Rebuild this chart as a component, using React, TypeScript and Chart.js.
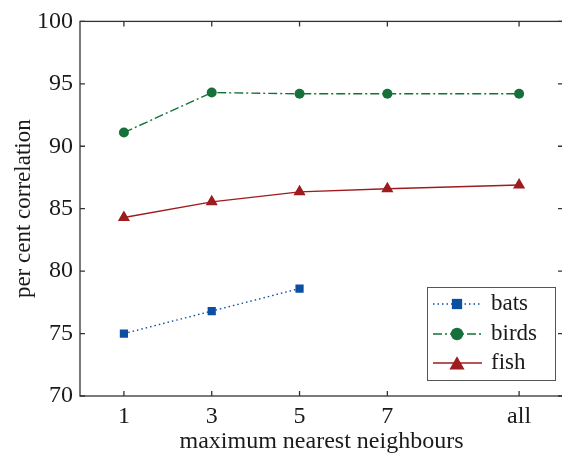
import React, { useEffect, useRef } from "react";
import { Chart, registerables } from "chart.js";

Chart.register(...registerables);

const xValues = [1, 3, 5, 7, 10];
const xTickLabels = ["1", "3", "5", "7", "all"];
const bats = [75.0, 76.8, 78.6, null, null];
const birds = [91.1, 94.3, 94.2, 94.2, 94.2];
const fish = [84.3, 85.55, 86.35, 86.6, 86.9];
const seriesNames = ["bats", "birds", "fish"];
const yTicks = [70, 75, 80, 85, 90, 95, 100];

const COLORS = ["#0b4ea2", "#16703a", "#9e1b1e"];
const DASHES = [[1.5, 3], [9, 3, 2, 3], []];
const STYLES = ["rect", "circle", "triangle"];
const RADII = [5.8, 5, 7];
const FONT = "'Liberation Serif', 'Times New Roman', serif";
const TEXT = "#1a1a1a";

function toPoints(vals: (number | null)[]) {
  return vals
    .map((v, i) => (v === null ? null : { x: xValues[i], y: v }))
    .filter((p) => p !== null) as { x: number; y: number }[];
}

function drawMarker(ctx: CanvasRenderingContext2D, style: string, x: number, y: number, r: number, color: string) {
  ctx.save();
  ctx.fillStyle = color;
  ctx.setLineDash([]);
  ctx.beginPath();
  if (style === "rect") {
    const s = r * Math.SQRT1_2;
    ctx.rect(x - s, y - s, 2 * s, 2 * s);
  } else if (style === "circle") {
    ctx.arc(x, y, r, 0, Math.PI * 2);
  } else {
    ctx.moveTo(x, y - r);
    ctx.lineTo(x + r * Math.cos(Math.PI / 6), y + r * 0.5);
    ctx.lineTo(x - r * Math.cos(Math.PI / 6), y + r * 0.5);
    ctx.closePath();
  }
  ctx.fill();
  ctx.restore();
}

const framePlugin = {
  id: "frame",
  afterDraw(chart: any) {
    const { ctx, chartArea: a } = chart;
    const xs = chart.scales.x;
    const ys = chart.scales.y;
    ctx.save();
    ctx.strokeStyle = "#333";
    ctx.lineWidth = 1.3;
    ctx.setLineDash([]);
    ctx.strokeRect(a.left, a.top, a.right - a.left, a.bottom - a.top);
    const tl = 5;
    ctx.beginPath();
    xValues.forEach((v) => {
      const px = xs.getPixelForValue(v);
      ctx.moveTo(px, a.bottom);
      ctx.lineTo(px, a.bottom - tl);
      ctx.moveTo(px, a.top);
      ctx.lineTo(px, a.top + tl);
    });
    yTicks.forEach((v) => {
      const py = ys.getPixelForValue(v);
      ctx.moveTo(a.left, py);
      ctx.lineTo(a.left + tl, py);
      ctx.moveTo(a.right, py);
      ctx.lineTo(a.right - tl, py);
    });
    ctx.stroke();

    // legend
    const bx = 427, by = 287, bw = 128, bh = 93;
    ctx.fillStyle = "#fff";
    ctx.fillRect(bx, by, bw, bh);
    ctx.strokeStyle = "#555";
    ctx.lineWidth = 1;
    ctx.strokeRect(bx + 0.5, by + 0.5, bw, bh);
    const rows = [304, 334, 363];
    ctx.font = `23px ${FONT}`;
    ctx.textBaseline = "middle";
    seriesNames.forEach((name, i) => {
      const y = rows[i];
      ctx.strokeStyle = COLORS[i];
      ctx.lineWidth = 1.4;
      ctx.setLineDash(DASHES[i]);
      ctx.beginPath();
      ctx.moveTo(433, y);
      ctx.lineTo(482, y);
      ctx.stroke();
      drawMarker(ctx, STYLES[i], 457, i === 2 ? y + 2 : y, RADII[i] * 1.25, COLORS[i]);
      ctx.fillStyle = TEXT;
      ctx.fillText(name, 491, y);
    });
    ctx.restore();
  },
};

export default function App() {
  const ref = useRef<HTMLCanvasElement | null>(null);
  useEffect(() => {
    if (!ref.current) return;
    const datasets = [bats, birds, fish].map((vals, i) => ({
      label: seriesNames[i],
      data: toPoints(vals),
      borderColor: COLORS[i],
      backgroundColor: COLORS[i],
      borderWidth: 1.4,
      borderDash: DASHES[i],
      pointStyle: STYLES[i],
      pointRadius: RADII[i],
      pointBorderWidth: 0,
      pointBackgroundColor: COLORS[i],
      tension: 0,
      showLine: true,
    }));
    const chart = new Chart(ref.current, {
      type: "scatter",
      data: { datasets },
      options: {
        responsive: false,
        animation: false,
        layout: { padding: { top: 21, right: 7, left: 0, bottom: 0 } },
        plugins: { legend: { display: false }, tooltip: { enabled: false } },
        scales: {
          x: {
            type: "linear",
            min: 0,
            max: 11,
            afterBuildTicks: (s: any) => {
              s.ticks = xValues.map((v) => ({ value: v }));
            },
            afterFit: (s: any) => {
              s.height = 58;
            },
            grid: { display: false, drawTicks: false },
            border: { display: false },
            ticks: {
              autoSkip: false,
              maxRotation: 0,
              padding: 6,
              color: TEXT,
              font: { family: FONT, size: 24 },
              callback: (v: any) => {
                const i = xValues.indexOf(Number(v));
                return i >= 0 ? xTickLabels[i] : "";
              },
            },
            title: {
              display: true,
              text: "maximum nearest neighbours",
              color: TEXT,
              font: { family: FONT, size: 24 },
              padding: { top: 0, bottom: -2 },
            },
          },
          y: {
            min: 70,
            max: 100,
            afterBuildTicks: (s: any) => {
              s.ticks = yTicks.map((v) => ({ value: v }));
            },
            afterFit: (s: any) => {
              s.width = 80;
            },
            grid: { display: false, drawTicks: false },
            border: { display: false },
            ticks: {
              padding: 7,
              color: TEXT,
              font: { family: FONT, size: 24 },
            },
            title: {
              display: true,
              text: "per cent correlation",
              color: TEXT,
              font: { family: FONT, size: 23 },
              padding: { top: 10, bottom: 0 },
            },
          },
        },
      },
      plugins: [framePlugin],
    });
    return () => chart.destroy();
  }, []);
  return (
    <div style={{ position: "absolute", left: 0, top: 0, width: 562, height: 454, overflow: "hidden", background: "#fff" }}>
      <canvas ref={ref} width={570} height={454} style={{ display: "block" }} />
    </div>
  );
}
